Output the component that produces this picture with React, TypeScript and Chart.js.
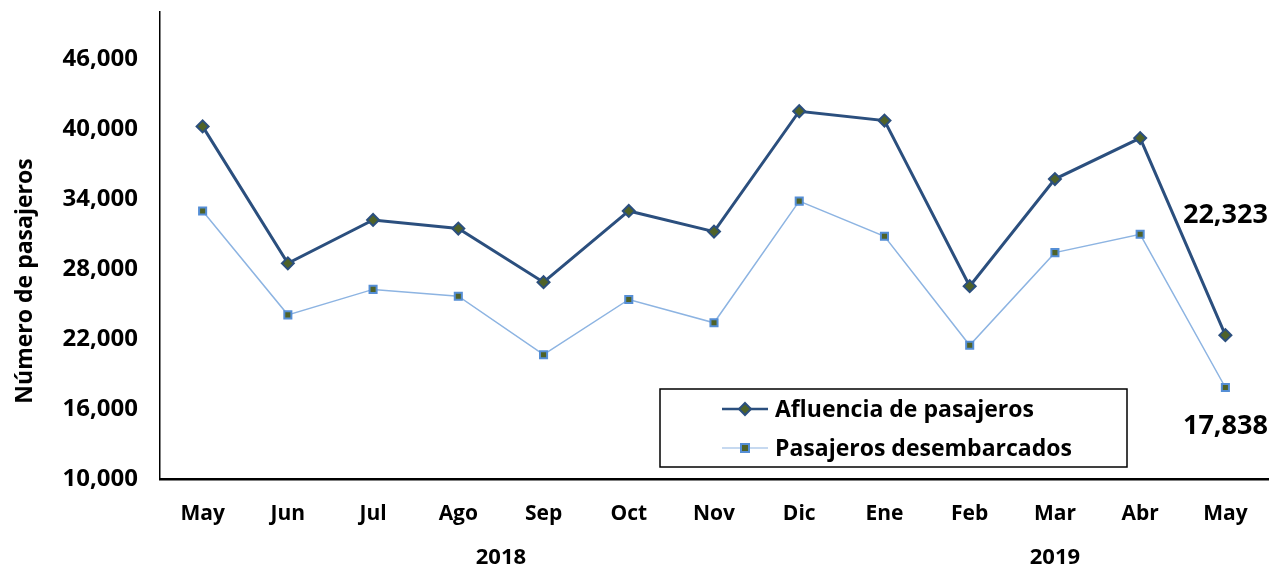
import React, { useEffect, useRef } from "react";
import { Chart, registerables } from "chart.js";

Chart.register(...registerables);

const months = ["May", "Jun", "Jul", "Ago", "Sep", "Oct", "Nov", "Dic", "Ene", "Feb", "Mar", "Abr", "May"];
const afluencia = [40200, 28470, 32190, 31450, 26860, 32960, 31190, 41500, 40700, 26520, 35690, 39200, 22323];
const desembarcados = [32960, 24060, 26240, 25660, 20650, 25380, 23380, 33800, 30790, 21450, 29390, 30960, 17838];
const yTicks = [10000, 16000, 22000, 28000, 34000, 40000, 46000];
const yearLabels = ["2018", "2019"];
const yearFrom = [0, 8];
const yearTo = [7, 12];
const seriesNames = ["Afluencia de pasajeros", "Pasajeros desembarcados"];
const yTitle = "Número de pasajeros";

const FONT = "'Open Sans', Roboto, sans-serif";
const DARK = "#2b4f7e";
const LIGHT = "#8db4e2";
const OLIVE = "#4f6228";
const LIGHT_BORDER = "#558ed5";

const fmt = (v: number) => v.toLocaleString("en-US");

const extrasPlugin = {
  id: "extras",
  afterDraw(chart: any) {
    const ctx = chart.ctx as CanvasRenderingContext2D;
    const x = chart.scales.x;
    ctx.save();
    ctx.fillStyle = "#000";
    ctx.textAlign = "center";
    ctx.textBaseline = "middle";
    // y title
    ctx.save();
    ctx.translate(25, 281);
    ctx.rotate(-Math.PI / 2);
    ctx.font = `bold 23px ${FONT}`;
    ctx.fillText(yTitle, 0, 0);
    ctx.restore();
    // year labels
    ctx.font = `bold 22px ${FONT}`;
    yearLabels.forEach((lab, i) => {
      const px = (x.getPixelForValue(yearFrom[i]) + x.getPixelForValue(yearTo[i])) / 2;
      ctx.fillText(lab, px, 558);
    });
    // data labels for last points
    const m0 = chart.getDatasetMeta(0).data;
    const m1 = chart.getDatasetMeta(1).data;
    const last = months.length - 1;
    ctx.font = `bold 27px ${FONT}`;
    ctx.fillText(fmt(afluencia[last]), m0[last].x, m0[last].y - 120);
    ctx.fillText(fmt(desembarcados[last]), m1[last].x, m1[last].y + 39);

    // legend box
    const bx = 660, by = 389, bw = 467, bh = 78;
    ctx.fillStyle = "#fff";
    ctx.fillRect(bx, by, bw, bh);
    ctx.strokeStyle = "#000";
    ctx.lineWidth = 1.5;
    ctx.strokeRect(bx, by, bw, bh);
    const rows = [409, 448];
    // row 1
    ctx.strokeStyle = DARK;
    ctx.lineWidth = 2.5;
    ctx.beginPath();
    ctx.moveTo(722, rows[0]);
    ctx.lineTo(768, rows[0]);
    ctx.stroke();
    ctx.beginPath();
    ctx.moveTo(745, rows[0] - 6);
    ctx.lineTo(751, rows[0]);
    ctx.lineTo(745, rows[0] + 6);
    ctx.lineTo(739, rows[0]);
    ctx.closePath();
    ctx.fillStyle = OLIVE;
    ctx.fill();
    ctx.lineWidth = 2;
    ctx.stroke();
    // row 2
    ctx.strokeStyle = LIGHT;
    ctx.lineWidth = 1.2;
    ctx.beginPath();
    ctx.moveTo(722, rows[1]);
    ctx.lineTo(768, rows[1]);
    ctx.stroke();
    ctx.fillStyle = OLIVE;
    ctx.fillRect(741, rows[1] - 4, 8, 8);
    ctx.strokeStyle = LIGHT_BORDER;
    ctx.lineWidth = 2;
    ctx.strokeRect(741, rows[1] - 4, 8, 8);
    ctx.fillStyle = "#000";
    ctx.font = `bold 23px ${FONT}`;
    ctx.textAlign = "left";
    ctx.fillText(seriesNames[0], 775, rows[0] + 1);
    ctx.fillText(seriesNames[1], 775, rows[1] + 1);
    ctx.restore();
  },
};

export default function App() {
  const ref = useRef<HTMLCanvasElement>(null);
  useEffect(() => {
    if (!ref.current) return;
    const chart = new Chart(ref.current, {
      type: "line",
      data: {
        labels: months,
        datasets: [
          {
            label: seriesNames[0],
            data: afluencia,
            borderColor: DARK,
            borderWidth: 3,
            pointStyle: "rectRot",
            pointRadius: 6,
            pointBackgroundColor: OLIVE,
            pointBorderColor: DARK,
            pointBorderWidth: 2,
            tension: 0,
          },
          {
            label: seriesNames[1],
            data: desembarcados,
            borderColor: LIGHT,
            borderWidth: 1.5,
            pointStyle: "rect",
            pointRadius: 5,
            pointBackgroundColor: OLIVE,
            pointBorderColor: LIGHT_BORDER,
            pointBorderWidth: 2,
            tension: 0,
          },
        ],
      },
      options: {
        animation: false,
        responsive: false,
        maintainAspectRatio: false,
        layout: { autoPadding: false, padding: { top: 12, right: 2, left: 0, bottom: 0 } },
        plugins: { legend: { display: false }, tooltip: { enabled: false } },
        scales: {
          x: {
            offset: true,
            grid: { display: false, drawTicks: false, offset: true },
            border: { display: true, color: "#000", width: 2.5 },
            ticks: {
              color: "#000",
              font: { family: FONT, size: 21, weight: "bold" },
              padding: 22,
              maxRotation: 0,
              autoSkip: false,
            },
            afterFit: (s: any) => {
              s.height = 91;
              s.paddingLeft = 0;
              s.paddingRight = 0;
            },
          },
          y: {
            min: 10000,
            max: 50000,
            afterBuildTicks: (s: any) => {
              s.ticks = yTicks.map((v) => ({ value: v }));
            },
            grid: { display: false, drawTicks: false },
            border: { display: true, color: "#000", width: 1.5 },
            ticks: {
              color: "#000",
              font: { family: FONT, size: 24, weight: "bold" },
              padding: 22,
              callback: (v: any) => fmt(Number(v)),
            },
            afterFit: (s: any) => {
              s.width = 160;
              s.paddingTop = 0;
              s.paddingBottom = 0;
            },
          },
        },
      },
      plugins: [extrasPlugin],
    });
    return () => chart.destroy();
  }, []);
  return (
    <div style={{ position: "absolute", left: 0, top: 0, width: 1270, height: 570 }}>
      <canvas ref={ref} width={1270} height={570} style={{ width: 1270, height: 570 }} />
    </div>
  );
}
